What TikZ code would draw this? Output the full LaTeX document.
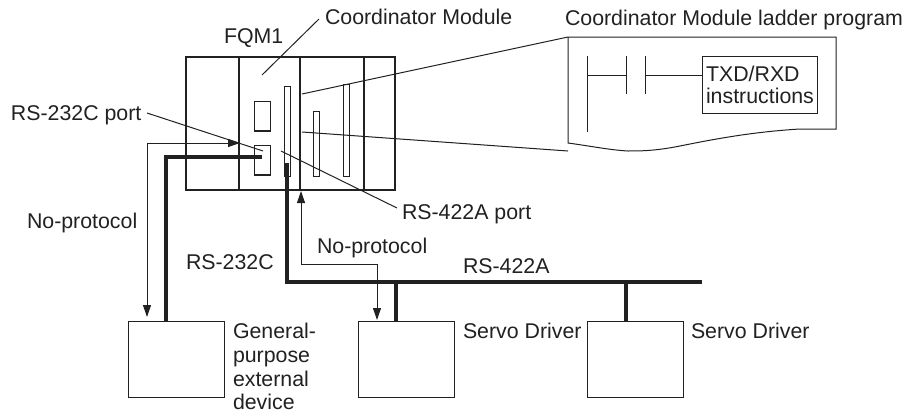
\documentclass[tikz,border=0pt]{standalone}
\usepackage{fontspec}
\setmainfont{Liberation Sans}
\usetikzlibrary{arrows.meta}
\definecolor{ink}{gray}{0.13}
\tikzset{
  x=0.75pt,y=-0.75pt,
  lbl/.style={inner sep=0pt,outer sep=0pt,font=\fontsize{16pt}{17.7pt}\selectfont,text=ink,align=left,anchor=base west},
  thin1/.style={draw=ink,line width=0.75pt},
  med/.style={draw=ink,line width=1.1pt},
  heavy/.style={draw=ink,line width=3pt},
  sig/.style={draw=ink,line width=0.75pt,{Triangle[length=9pt,width=6pt]}-{Triangle[length=9pt,width=6pt]}},
  port/.style={draw=ink,line width=1pt,inner sep=0pt,minimum width=12pt,minimum height=22pt,anchor=north west},
  slot/.style={draw=ink,line width=0.8pt,inner sep=0pt,minimum width=4.8pt,anchor=north west},
  devbox/.style={draw=ink,line width=0.85pt,inner sep=0pt,minimum width=72pt,minimum height=57pt,anchor=north west}
}
\begin{document}
\begin{tikzpicture}
\useasboundingbox (0,0) rectangle (914,414);
% module
\node[draw=ink,line width=1.3pt,inner sep=0pt,minimum width=156.75pt,minimum height=99.75pt,anchor=north west] (fqm) at (185,56) {};
\draw[med] (239,56) -- (239,189);
\draw[med] (300,56) -- (300,189);
\draw[med] (364,56) -- (364,189);
\node[port] (p1) at (254,101) {};
\node[port] (p2) at (254,145) {};
\node[slot,minimum height=67.5pt] (s1) at (283.5,86) {};
\node[slot,minimum height=49pt] (s2) at (313,111) {};
\node[slot,minimum height=69pt] (s3) at (343,84) {};
% callout
\coordinate (c1) at (302,94);
\coordinate (c2) at (302,132);
\coordinate (bl) at (568,37);
\coordinate (bb) at (568,143);
\coordinate (bbr) at (568,151);
\draw[thin1] (c1) -- (bl) -- (836,37) -- (836,129) -- (800,129) .. controls (750,132) and (710,140) .. (680,146) .. controls (655,151) and (640,151) .. (628,151) .. controls (610,150) and (590,146) .. (bb) -- (bl);
\draw[thin1] (c2) -- (bbr);
% ladder
\coordinate (l1) at (587,56);
\coordinate (l2) at (587,132);
\coordinate (m1) at (626,56);
\coordinate (m2) at (626,94);
\coordinate (r1) at (645,56);
\coordinate (r2) at (645,94);
\coordinate (jl) at (587,75);
\coordinate (jm) at (626,75);
\coordinate (jr) at (645,75);
\draw[thin1] (l1) -- (l2);
\draw[thin1] (m1) -- (m2);
\draw[thin1] (r1) -- (r2);
\node[draw=ink,line width=0.85pt,inner sep=0pt,minimum width=86pt,minimum height=43pt,anchor=north west] (txd) at (702,56) {};
\node[lbl,font=\fontsize{16pt}{16.5pt}\selectfont] (txdt) at (706,81) {TXD/RXD};
\node[lbl] (txdu) at (706,103) {instructions};
\draw[thin1] (jl) -- (jm);
\draw[thin1] (jr) -- (jr -| txd.west);
% devices
\node[devbox] (d1) at (128,321) {};
\node[devbox] (d2) at (358,321) {};
\node[devbox] (d3) at (587,321) {};
% heavy lines
\coordinate (h1) at (262,157);
\coordinate (h1c) at (166,157);
\draw[heavy] (h1) -- (h1c) -- (h1c |- d1.north);
\coordinate (h2) at (287,163);
\coordinate (h2c) at (287,282);
\coordinate (hr) at (702,282);
\coordinate (t2) at (396,282);
\coordinate (t3) at (626,282);
\draw[heavy] (h2) -- (h2c) -- (hr);
\draw[heavy] (t2) -- (t2 |- d2.north);
\draw[heavy] (t3) -- (t3 |- d3.north);
% signal arrows
\coordinate (a0) at (147,317);
\coordinate (a1) at (147,143);
\coordinate (a2) at (240,143);
\draw[sig] (a0) -- (a1) -- (a2);
\coordinate (b0) at (377,320);
\coordinate (b1) at (377,264);
\coordinate (b2) at (301,264);
\coordinate (b3) at (301,191);
\draw[sig] (b0) -- (b1) -- (b2) -- (b3);
% labels
\node[lbl] (t1) at (224,43) {FQM1};
\node[lbl] (t2l) at (325,24) {Coordinator Module};
\node[lbl] (t3l) at (565,25) {Coordinator Module ladder program};
\node[lbl] (t4) at (11,120) {RS-232C port};
\node[lbl] (t5) at (402,219) {RS-422A port};
\node[lbl] (t6) at (27,228) {No-protocol};
\node[lbl] (t7) at (317,253) {No-protocol};
\node[lbl] (t8) at (186,269) {RS-232C};
\node[lbl] (t9) at (463,273) {RS-422A};
\node[lbl] (t10a) at (233,338) {General-};
\node[lbl] (t10b) at (233,362) {purpose};
\node[lbl] (t10c) at (233,386) {external};
\node[lbl] (t10d) at (233,409) {device};
\node[lbl] (t11) at (463,338) {Servo Driver};
\node[lbl] (t12) at (691,338) {Servo Driver};
% leaders
\coordinate (n1) at (147,113);
\coordinate (n2) at (263,151);
\coordinate (n3) at (281,151);
\coordinate (n4) at (397,208);
\coordinate (n5) at (262,75);
\coordinate (n6) at (319,19);
\draw[thin1] (n1) -- (n2);
\draw[thin1] (n3) -- (n4);
\draw[thin1] (n5) -- (n6);
\end{tikzpicture}
\end{document}
